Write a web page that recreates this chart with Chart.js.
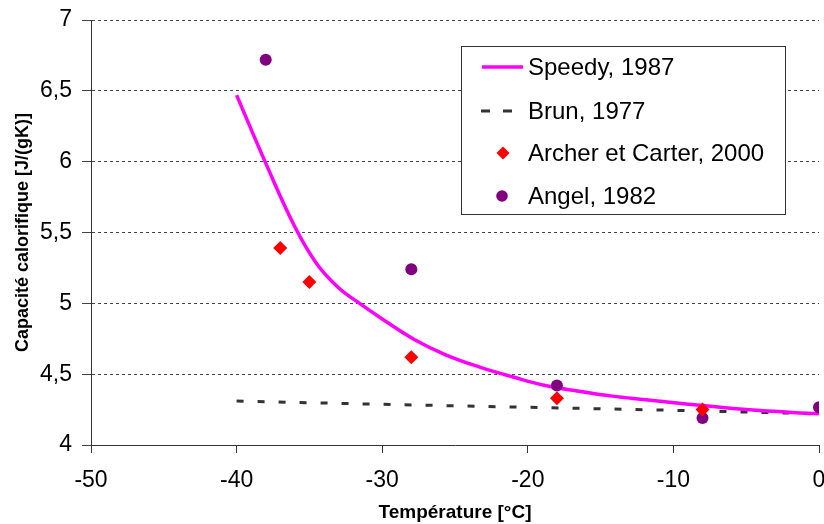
<!DOCTYPE html>
<html>
<head>
<meta charset="utf-8">
<script src="https://cdn.jsdelivr.net/npm/chart.js@4/dist/chart.umd.min.js"></script>
<style>
  html, body { margin: 0; padding: 0; background: #fff; }
  #wrap { width: 824px; height: 524px; }
</style>
</head>
<body>
<div id="wrap"><canvas id="chart" width="824" height="524"></canvas></div>
<script>
// Speedy, 1987 (courbe)
var speedyT = [-40, -38, -36, -34.5, -33, -31.7, -30, -27.8, -25.6, -23.3, -21, -18.8, -16.5, -14.2, -11.9, -9.6, -5, 0];
var speedyCp = [6.47, 5.99, 5.54, 5.28, 5.11, 5.01, 4.89, 4.745, 4.635, 4.55, 4.48, 4.42, 4.38, 4.345, 4.32, 4.295, 4.25, 4.22];
// Brun, 1977
var brunT = [-40, -30, -20, -10, 0];
var brunCp = [4.31, 4.287, 4.266, 4.245, 4.22];
// Archer et Carter, 2000
var archerT = [-37, -35, -28, -18, -8];
var archerCp = [5.39, 5.15, 4.62, 4.33, 4.25];
// Angel, 1982
var angelT = [-38, -28, -18, -8, 0];
var angelCp = [6.72, 5.24, 4.42, 4.19, 4.266];

var legendLabels = ['Speedy, 1987', 'Brun, 1977', 'Archer et Carter, 2000', 'Angel, 1982'];

function pts(xs, ys) {
    var out = [];
    for (var i = 0; i < xs.length; i++) out.push({x: xs[i], y: ys[i]});
    return out;
}

var FONT = "'Liberation Sans', Arial, sans-serif";

// legende dessinee dans la zone du graphique
var boxLegend = {
    id: 'boxLegend',
    afterDraw: function(chart) {
        var ctx = chart.ctx;
        var x0 = 461, y0 = 46, w = 324, h = 168;
        ctx.save();
        ctx.fillStyle = '#fff';
        ctx.fillRect(x0, y0, w, h);
        ctx.strokeStyle = '#333';
        ctx.lineWidth = 1;
        ctx.strokeRect(x0 + 0.5, y0 + 0.5, w, h);
        var rows = [67, 111, 153, 196];
        ctx.font = '24px ' + FONT;
        ctx.fillStyle = '#000';
        ctx.textBaseline = 'middle';
        for (var i = 0; i < legendLabels.length; i++) {
            ctx.fillText(legendLabels[i], 528, rows[i] + 1);
        }
        // Speedy
        ctx.strokeStyle = '#FF00FF';
        ctx.lineWidth = 3.5;
        ctx.beginPath(); ctx.moveTo(482, rows[0]); ctx.lineTo(523, rows[0]); ctx.stroke();
        // Brun
        ctx.strokeStyle = '#333';
        ctx.lineWidth = 3;
        ctx.setLineDash([9, 13]);
        ctx.beginPath(); ctx.moveTo(481, rows[1]); ctx.lineTo(525, rows[1]); ctx.stroke();
        ctx.setLineDash([]);
        // Archer
        ctx.fillStyle = '#FF0000';
        ctx.beginPath();
        ctx.moveTo(503, rows[2] - 6.5); ctx.lineTo(509.5, rows[2]); ctx.lineTo(503, rows[2] + 6.5); ctx.lineTo(496.5, rows[2]);
        ctx.closePath(); ctx.fill();
        // Angel
        ctx.fillStyle = '#800080';
        ctx.beginPath(); ctx.arc(502, rows[3], 5.8, 0, Math.PI * 2); ctx.fill();
        ctx.restore();
    }
};

var ctx = document.getElementById('chart').getContext('2d');
var chart = new Chart(ctx, {
    type: 'scatter',
    data: {
        datasets: [
            {
                label: legendLabels[0],
                type: 'line',
                data: pts(speedyT, speedyCp),
                borderColor: '#FF00FF',
                borderWidth: 3.5,
                pointRadius: 0,
                fill: false,
                tension: 0.4,
                order: 3
            },
            {
                label: legendLabels[1],
                type: 'line',
                data: pts(brunT, brunCp),
                borderColor: '#333333',
                borderWidth: 3,
                borderDash: [7, 14],
                pointRadius: 0,
                fill: false,
                order: 4
            },
            {
                label: legendLabels[3],
                data: pts(angelT, angelCp),
                pointStyle: 'circle',
                pointRadius: 6,
                backgroundColor: '#800080',
                borderColor: '#800080',
                borderWidth: 0,
                order: 2
            },
            {
                label: legendLabels[2],
                data: pts(archerT, archerCp),
                pointStyle: 'rectRot',
                pointRadius: 7,
                backgroundColor: '#FF0000',
                borderColor: '#FF0000',
                borderWidth: 0,
                order: 1
            }
        ]
    },
    options: {
        responsive: false,
        animation: false,
        layout: { autoPadding: false, padding: { left: 0, right: 5, top: 20, bottom: 0 } },
        plugins: { legend: { display: false }, tooltip: { enabled: false } },
        scales: {
            x: {
                type: 'linear',
                min: -50, max: 0,
                afterFit: function(s) { s.height = 79; s.paddingLeft = 0; s.paddingRight = 0; },
                ticks: { stepSize: 10, color: '#000', padding: 14, font: { size: 23, family: FONT } },
                grid: { drawOnChartArea: false, drawTicks: true, tickLength: 8, color: '#333' },
                border: { color: '#333', width: 1 },
                title: { display: true, text: 'Température [°C]', color: '#000',
                         font: { size: 19, weight: 'bold', family: FONT }, padding: { top: 0, bottom: 0 } }
            },
            y: {
                min: 4, max: 7,
                afterFit: function(s) { s.width = 91; s.paddingTop = 0; s.paddingBottom = 0; },
                ticks: { stepSize: 0.5, color: '#000', padding: 10, font: { size: 23, family: FONT },
                         callback: function(v) { return String(v).replace('.', ','); } },
                grid: { color: '#444', lineWidth: 1, tickLength: 9 },
                border: { color: '#333', width: 1, dash: [3, 3] },
                title: { display: true, text: 'Capacité calorifique [J/(gK)]', color: '#000',
                         font: { size: 18, weight: 'bold', family: FONT }, padding: { top: 12, bottom: 0 } }
            }
        }
    },
    plugins: [boxLegend]
});
</script>
</body>
</html>
